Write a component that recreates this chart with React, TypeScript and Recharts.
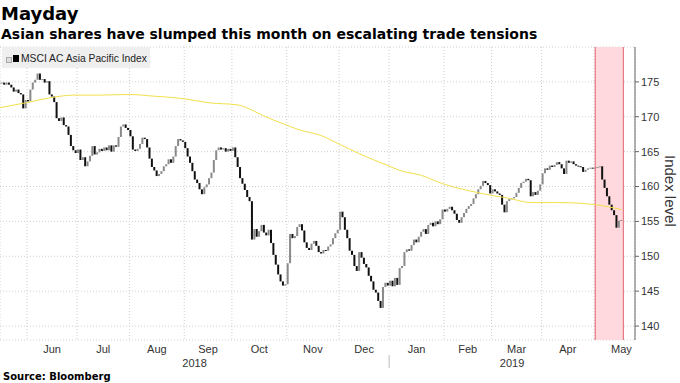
import {
  ComposedChart,
  Bar,
  Line,
  XAxis,
  YAxis,
  CartesianGrid,
  ReferenceArea,
  ReferenceLine,
} from "recharts";

// month labels and the trading-day index of each month's first weekday (last = Jun 2019)
const months = ["Jun", "Jul", "Aug", "Sep", "Oct", "Nov", "Dec", "Jan", "Feb", "Mar", "Apr", "May"];
const monthStarts = [12, 33, 55, 78, 98, 121, 143, 164, 187, 207, 228, 250, 273];
const years = ["2018", "2019"];
const yTicks = [140, 145, 150, 155, 160, 165, 170, 175];

// daily closes, MSCI AC Asia Pacific, from 16 May 2018
const closes = [
  174.8, 174.9, 174.6, 174.9, 174.6, 174.2, 173.6, 173.9, 173.4, 173.2,
  171.2, 172.4, 172.2, 173.9, 174.9, 175.3, 176.2, 175.3, 175.4, 174.9,
  175.1, 173.2, 172.9, 172.1, 169.8, 169.4, 169.9, 168.8, 168.6, 167.4,
  165.8, 165.2, 164.8, 165.3, 163.8, 164.2, 162.9, 163.6, 164.4, 165.8,
  164.6, 164.9, 165.4, 165.1, 165.6, 165.2, 165.9, 165.0, 165.9, 165.7,
  167.1, 168.6, 168.9, 168.4, 168.1, 167.2, 165.3, 165.1, 165.4, 166.1,
  167.0, 166.8, 165.6, 164.0, 162.8, 162.3, 161.5, 161.8, 162.2, 162.9,
  163.2, 163.9, 163.4, 164.3, 165.8, 166.8, 166.6, 166.4, 165.5, 164.3,
  163.4, 162.2, 161.0, 160.5, 159.6, 158.9, 159.9, 160.3, 161.2, 162.0,
  163.8, 165.2, 165.6, 165.3, 165.5, 165.0, 165.4, 165.1, 165.6, 164.2,
  162.8, 161.2, 160.4, 159.5, 158.5, 157.9, 152.4, 153.9, 152.8, 153.6,
  154.5, 153.4, 153.0, 153.8, 151.9, 150.2, 148.8, 147.4, 146.4, 145.8,
  146.0, 149.0, 153.2, 152.6, 152.9, 154.2, 154.6, 153.7, 152.0, 151.2,
  150.9, 151.8, 152.2, 151.5, 150.6, 150.4, 150.9, 150.8, 151.4, 151.7,
  152.6, 153.3, 153.8, 156.4, 155.6, 153.8, 152.6, 150.8, 150.2, 148.6,
  147.9, 150.6, 149.8, 148.9, 148.4, 147.2, 146.4, 145.2, 144.8, 143.6,
  142.6, 145.6, 146.2, 145.8, 146.5, 145.7, 146.9, 145.9, 148.3, 148.6,
  150.6, 151.0, 150.8, 151.6, 152.4, 152.0, 152.8, 153.5, 153.9, 153.2,
  154.5, 154.8, 154.3, 155.0, 154.6, 155.3, 156.7, 156.4, 156.8, 157.1,
  156.6, 156.1, 155.2, 154.8, 155.6, 156.2, 156.8, 157.2, 157.5, 158.3,
  158.9, 159.6, 160.1, 160.8, 160.5, 160.2, 159.0, 159.6, 159.3, 159.0,
  158.8, 157.4, 156.3, 157.9, 158.2, 158.3, 158.5, 159.1, 159.8, 160.5,
  160.7, 161.1, 160.9, 158.6, 159.2, 158.8, 159.4, 160.3, 161.9, 162.6,
  162.4, 163.0, 162.8, 163.1, 163.5, 163.2, 162.6, 161.8, 163.7, 163.4,
  163.6, 163.2, 163.0, 162.9, 162.8, 162.1, 162.4, 162.6, 162.7, 162.6,
  162.7, 162.8, 162.9, 161.0, 159.8, 158.6, 157.4, 156.6, 155.9, 154.1,
  155.1, 155.2,
];

// long moving average (yellow), read at a few days
const maIdx = [0, 11, 21, 31, 42, 55, 63, 77, 88, 100, 105, 111, 119, 126, 135, 143, 151, 163, 168, 177, 186, 197, 207, 214, 223, 235, 250, 261];
const maVal = [171.3, 172.0, 172.7, 173.1, 173.1, 173.2, 173.0, 172.6, 172.0, 171.7, 171.1, 170.1, 169.0, 168.1, 167.3, 166.0, 164.7, 163.0, 162.3, 161.6, 160.4, 159.4, 158.7, 158.3, 157.7, 157.7, 157.4, 156.7];

const X_DOMAIN: [number, number] = [0.17, 266.7];
const SHADE: [number, number] = [250, 261.8];

const rows = closes.map((c, i) => {
  const k = maIdx.indexOf(i);
  return { i, o: i === 0 ? c : closes[i - 1], c, ma: k >= 0 ? maVal[k] : null };
});

const bounds = monthStarts.map((s) => s - 0.5);
const gridTicks = bounds.filter((b) => b < X_DOMAIN[1]);
const monthCenters = months.map((_, k) => (bounds[k] + bounds[k + 1]) / 2);
const yearBreak = bounds[7];
const yearCenters = [(X_DOMAIN[0] + yearBreak) / 2, (yearBreak + X_DOMAIN[1]) / 2];

const AXIS_FONT = "'Liberation Sans', Arial, sans-serif";
const BOLD_FONT = "'DejaVu Sans', Verdana, sans-serif";

function Candle(props: any) {
  const { x, y, width, height, payload } = props;
  const up = payload.c >= payload.o;
  return <rect x={x} y={y} width={width} height={Math.max(height, 1)} fill={up ? "#8a8a8a" : "#111"} />;
}

function MonthTick(p: any) {
  const k = monthCenters.indexOf(p.payload.value);
  return (
    <text x={p.x} y={p.y + 13} textAnchor="middle" fontSize={11} fill="#333" fontFamily={AXIS_FONT}>
      {months[k]}
    </text>
  );
}

function YearTick(p: any) {
  const v = p.payload.value;
  if (v === yearBreak) {
    return <line x1={p.x} x2={p.x} y1={p.y + 1} y2={p.y + 14} stroke="#bbb" />;
  }
  const k = yearCenters.indexOf(v);
  return (
    <text x={p.x} y={p.y + 13} textAnchor="middle" fontSize={11} fill="#333" fontFamily={AXIS_FONT}>
      {years[k]}
    </text>
  );
}

export default function App() {
  return (
    <div style={{ position: "absolute", left: 0, top: 0, width: 680, height: 383, background: "#fff" }}>
      <div style={{ position: "absolute", left: 1, top: 5, fontFamily: BOLD_FONT, fontWeight: "bold", fontSize: 18, lineHeight: "18px", color: "#000" }}>
        Mayday
      </div>
      <div style={{ position: "absolute", left: 1, top: 27, fontFamily: BOLD_FONT, fontWeight: "bold", fontSize: 14, lineHeight: "14px", color: "#000", whiteSpace: "nowrap" }}>
        Asian shares have slumped this month on escalating trade tensions
      </div>

      <ComposedChart width={680} height={383} data={rows} margin={{ top: 47, right: 0, bottom: 13, left: 0 }}>
        <CartesianGrid stroke="#cfcfcf" strokeDasharray="1 2" />
        <ReferenceArea x1={SHADE[0]} x2={SHADE[1]} fill="#ffd9de" fillOpacity={1} stroke="none" />
        <ReferenceLine x={SHADE[0]} stroke="#e0606e" />
        <ReferenceLine x={SHADE[1]} stroke="#e0606e" />
        <XAxis
          dataKey="i"
          type="number"
          domain={X_DOMAIN}
          allowDataOverflow
          ticks={gridTicks}
          interval={0}
          tickFormatter={() => ""}
          tickSize={4}
          height={0}
          stroke="#666"
        />
        <XAxis
          xAxisId="m"
          dataKey="i"
          type="number"
          domain={X_DOMAIN}
          allowDataOverflow
          ticks={monthCenters}
          interval={0}
          axisLine={false}
          tickLine={false}
          tickSize={0}
          tickMargin={0}
          tick={MonthTick}
          height={14}
        />
        <XAxis
          xAxisId="yr"
          dataKey="i"
          type="number"
          domain={X_DOMAIN}
          allowDataOverflow
          ticks={[yearCenters[0], yearBreak, yearCenters[1]]}
          interval={0}
          axisLine={false}
          tickLine={false}
          tickSize={0}
          tickMargin={0}
          tick={YearTick}
          height={16}
        />
        <YAxis
          orientation="right"
          type="number"
          domain={[138, 180]}
          allowDataOverflow
          ticks={yTicks}
          interval={0}
          width={45}
          tickSize={4}
          tickMargin={2}
          stroke="#666"
          tick={{ fontSize: 11, fill: "#333", fontFamily: AXIS_FONT }}
        />
        <Line
          dataKey="ma"
          type="monotone"
          stroke="#f2e04a"
          strokeWidth={1}
          dot={false}
          connectNulls
          isAnimationActive={false}
        />
        <Bar
          dataKey={(r: any) => [Math.min(r.o, r.c), Math.max(r.o, r.c)]}
          barSize={2}
          shape={Candle}
          isAnimationActive={false}
        />
      </ComposedChart>

      <div style={{ position: "absolute", left: 2, top: 47, width: 148, height: 21, background: "#efefef", fontFamily: AXIS_FONT, fontSize: 10.3, lineHeight: "21px", color: "#222", whiteSpace: "nowrap" }}>
        <span style={{ position: "absolute", left: 4, top: 10, width: 4, height: 4, border: "1px solid #aaa", background: "#ddd" }} />
        <span style={{ position: "absolute", left: 11, top: 8, width: 6, height: 7, background: "#000" }} />
        <span style={{ position: "absolute", left: 19, top: 1 }}>MSCI AC Asia Pacific Index</span>
      </div>

      <div style={{ position: "absolute", left: 662, top: 155, writingMode: "vertical-rl", fontFamily: AXIS_FONT, fontSize: 15, lineHeight: "16px", color: "#333", whiteSpace: "nowrap" }}>
        Index level
      </div>

      <div style={{ position: "absolute", left: 3, top: 371.5, fontFamily: BOLD_FONT, fontWeight: "bold", fontSize: 10, lineHeight: "10px", color: "#000", whiteSpace: "nowrap" }}>
        Source: Bloomberg
      </div>
    </div>
  );
}
